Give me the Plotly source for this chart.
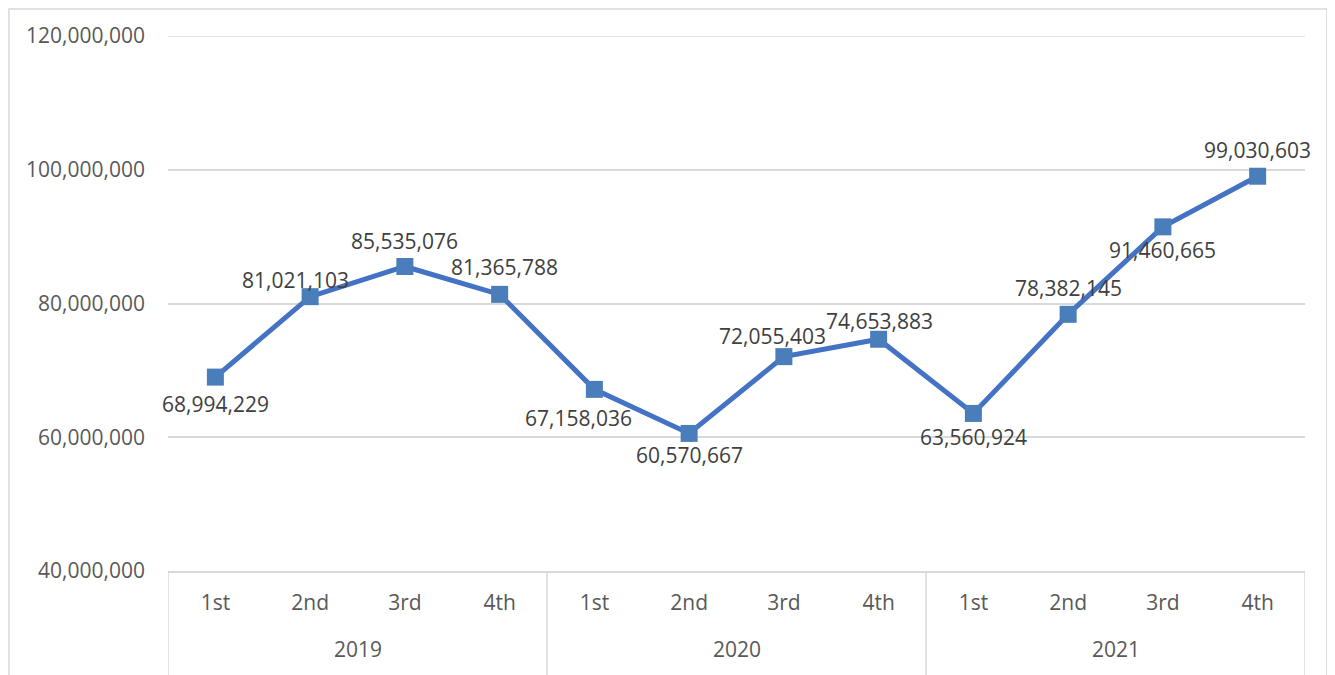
import plotly.graph_objects as go

years = ["2019"] * 4 + ["2020"] * 4 + ["2021"] * 4
quarters = ["1st", "2nd", "3rd", "4th"] * 3
values = [68994229, 81021103, 85535076, 81365788,
          67158036, 60570667, 72055403, 74653883,
          63560924, 78382145, 91460665, 99030603]
# label offsets (pixels) relative to each point
label_dx = [0, -15, 0, 5, -16, 0, -11, 1, 0, 0, 0, 0]
label_dy = [-27, 17, 25, 27, -29, -22, 21, 18, -24, 26, -23, 26]
y_ticks = [40000000, 60000000, 80000000, 100000000, 120000000]

FONT = "Open Sans"
AX = "#595959"
GRID = "#D9D9D9"
BLUE = "#4472C4"

idx = list(range(len(values)))

fig = go.Figure()
fig.add_trace(go.Scatter(
    x=idx, y=values, mode="lines+markers",
    line=dict(color=BLUE, width=5),
    marker=dict(symbol="square", size=17, color="#4A7EBB", line=dict(width=0)),
    hoverinfo="skip", showlegend=False, cliponaxis=False,
))

for i, v in enumerate(values):
    fig.add_annotation(x=i, y=v, xref="x", yref="y", text=f"{v:,}",
                       showarrow=False, xshift=label_dx[i], yshift=label_dy[i],
                       font=dict(family=FONT, size=21, color="#404040"))

# group (year) labels and dividers
groups = []
for i, yv in enumerate(years):
    if not groups or groups[-1][0] != yv:
        groups.append([yv, i, i])
    else:
        groups[-1][2] = i
bounds = [groups[0][1] - 0.5] + [g[2] + 0.5 for g in groups]
for name, a, b in groups:
    fig.add_annotation(x=(a + b) / 2, y=-0.1458, xref="x", yref="paper",
                       text=name, showarrow=False, yanchor="middle",
                       font=dict(family=FONT, size=21, color=AX))
for bx in bounds:
    fig.add_shape(type="line", xref="x", yref="paper", x0=bx, x1=bx,
                  y0=0, y1=-0.25, line=dict(color=GRID, width=1.5))

# top gridline (plotly hides the one at the range edge)
fig.add_shape(type="line", xref="paper", yref="y", x0=0, x1=1,
              y0=y_ticks[-1], y1=y_ticks[-1], line=dict(color=GRID, width=1.5),
              layer="below")

# chart border
fig.add_shape(type="rect", xref="paper", yref="paper",
              x0=-0.1399, x1=1.0193, y0=-0.3, y1=1.0505,
              line=dict(color=GRID, width=1.5))

fig.update_layout(
    width=1327, height=667,
    margin=dict(l=160, r=30, t=28, b=104),
    paper_bgcolor="white", plot_bgcolor="white",
    font=dict(family=FONT, size=21, color=AX),
    xaxis=dict(range=[-0.5, len(values) - 0.5], tickvals=idx, ticktext=quarters,
               showgrid=False, zeroline=False, showline=True,
               linecolor=GRID, linewidth=1.5, ticks="",
               ticklabelstandoff=12,
               tickfont=dict(family=FONT, size=21, color=AX)),
    yaxis=dict(range=[40000000, 120000000], tickvals=y_ticks,
               ticktext=[f"{t:,}" for t in y_ticks],
               showgrid=True, gridcolor=GRID, gridwidth=1.5,
               zeroline=False, showline=False, ticks="",
               ticklabelstandoff=22,
               tickfont=dict(family=FONT, size=21, color=AX)),
)

fig.write_html("out.html")
